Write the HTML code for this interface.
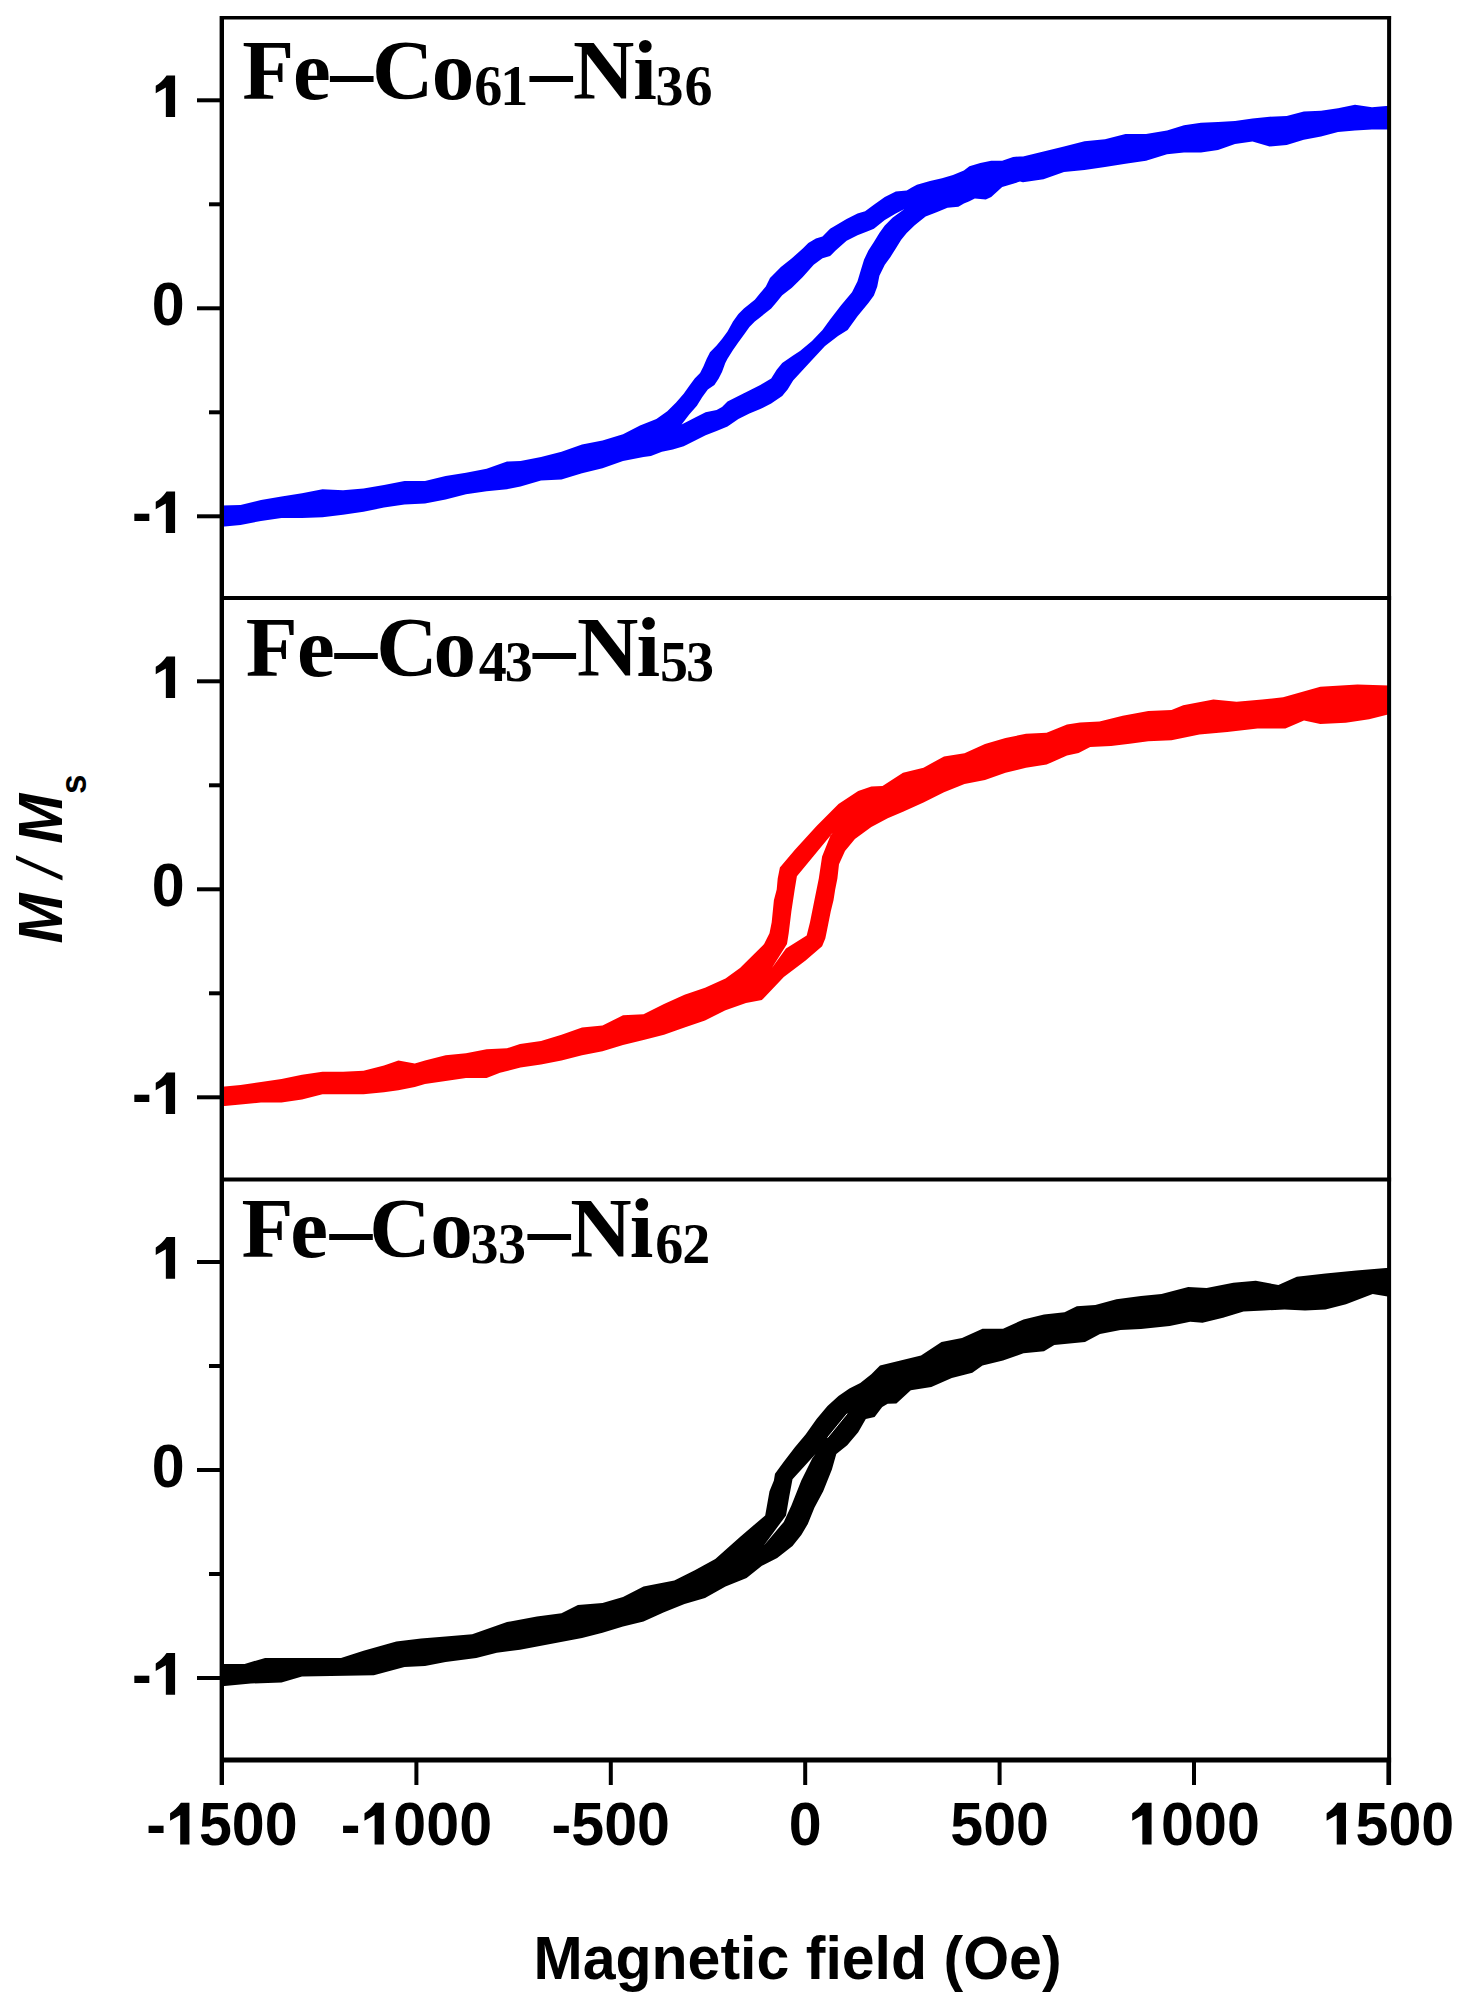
<!DOCTYPE html>
<html><head><meta charset="utf-8"><style>html,body{margin:0;padding:0;background:#fff;overflow:hidden}svg{display:block}</style></head>
<body>
<svg width="1463" height="2011" viewBox="0 0 1463 2011">
<rect width="100%" height="100%" fill="#fff"/>
<defs>
<clipPath id="c0"><rect x="222" y="19.5" width="1167" height="576.5"/></clipPath>
<clipPath id="c1"><rect x="222" y="600" width="1167" height="577.5"/></clipPath>
<clipPath id="c2"><rect x="222" y="1181.5" width="1167" height="576.0"/></clipPath>
</defs>
<g clip-path="url(#c0)">
<path fill="#0000ff" fill-rule="evenodd" d="M218.0,505.6 240.5,505.0 261.0,499.9 281.5,496.4 302.0,493.3 322.5,489.2 343.0,490.2 363.5,488.6 384.0,485.1 404.5,481.0 425.0,481.0 445.6,475.9 466.0,472.8 486.6,468.7 507.0,461.5 520.5,461.0 541.0,456.9 561.5,451.7 582.0,444.6 602.5,440.5 623.0,434.3 640.0,425.5 656.4,418.9 667.3,411.2 676.1,402.5 683.7,393.7 689.2,386.1 694.7,378.4 700.1,373.0 703.4,366.4 706.7,358.7 710.0,352.2 716.6,345.6 722.0,339.1 727.5,331.4 733.0,321.6 738.4,313.9 743.9,308.4 754.8,299.7 760.3,293.1 765.8,286.6 770.0,278.0 780.9,267.0 791.9,258.3 802.8,248.4 808.3,243.0 815.9,238.6 822.5,236.4 830.1,228.7 835.6,225.5 846.6,218.9 857.5,213.4 865.1,211.2 873.9,204.7 884.8,197.0 895.8,191.6 906.7,190.5 912.2,187.2 916.9,184.8 930.0,181.0 942.0,178.3 953.0,175.0 963.9,170.6 969.4,166.2 980.3,163.0 991.2,160.8 1002.2,160.8 1013.1,157.0 1020.0,156.4 1023.0,156.6 1043.5,151.5 1064.0,146.4 1084.5,141.3 1105.0,139.2 1125.5,134.1 1146.0,134.1 1167.0,130.4 1184.0,125.3 1201.0,122.7 1218.0,121.9 1235.0,121.0 1252.5,118.4 1269.6,116.7 1286.7,115.9 1303.8,111.6 1321.0,110.8 1338.0,108.2 1355.0,104.8 1372.0,107.3 1392.0,105.6 1392.0,129.6 1372.0,129.6 1355.0,130.4 1338.0,132.1 1321.0,136.4 1303.8,139.8 1286.7,144.9 1269.6,146.6 1252.5,141.5 1235.0,144.1 1218.0,150.0 1201.0,152.6 1184.0,152.6 1167.0,154.3 1146.0,160.7 1125.5,163.8 1105.0,166.9 1084.5,170.0 1064.0,172.0 1043.5,179.2 1023.0,182.3 1020.0,181.6 1013.1,183.7 1002.2,187.0 991.2,196.9 985.8,199.6 974.8,198.5 969.4,201.2 963.9,203.4 958.4,206.7 947.5,207.8 936.6,212.2 925.6,216.6 914.7,225.3 906.7,233.1 901.2,239.7 895.8,248.4 890.3,257.2 884.8,264.8 879.4,275.8 877.2,286.7 873.9,295.4 868.4,303.1 857.5,316.2 847.6,330.0 838.0,336.0 825.0,346.0 812.0,360.0 800.0,373.0 793.1,380.6 787.6,389.4 782.2,395.9 771.2,403.6 760.3,409.0 749.4,413.4 738.4,418.9 727.5,426.5 716.6,430.9 705.6,435.3 694.7,440.8 683.7,446.2 672.8,449.5 661.9,451.7 650.9,456.1 643.5,456.9 623.0,461.0 602.5,468.2 582.0,473.3 561.5,479.4 541.0,480.5 520.5,486.6 507.0,489.2 486.6,491.2 466.0,494.3 445.6,499.4 425.0,503.5 404.5,504.6 384.0,507.6 363.5,511.7 343.0,514.8 322.5,517.3 302.0,517.9 281.5,517.9 261.0,521.0 240.5,525.0 218.0,527.1Z M681.6,424.4 689.2,414.5 696.9,405.8 702.3,397.0 707.8,389.4 714.4,385.0 718.7,378.4 722.0,371.9 725.3,363.1 727.5,358.7 733.0,350.0 738.4,342.3 743.9,334.7 749.4,327.0 754.8,321.6 760.3,317.2 765.8,312.8 771.2,308.4 776.7,301.9 782.2,295.3 791.9,287.8 802.8,276.9 813.7,264.8 822.5,258.3 830.1,256.1 835.6,250.6 846.6,240.8 857.5,235.3 868.4,230.9 873.9,228.7 884.8,220.0 895.8,213.4 904.5,209.1 892.5,217.8 884.8,225.5 879.4,233.1 873.9,241.9 868.4,250.6 864.1,259.4 860.8,270.3 857.5,281.2 852.0,292.2 841.1,305.3 830.1,319.5 822.5,330.0 812.0,341.0 800.0,351.1 793.1,355.5 782.2,363.1 776.7,369.7 771.2,378.4 760.3,385.0 749.4,390.5 738.4,395.9 727.5,401.4 722.0,406.9 716.6,410.1 705.6,412.3 694.7,417.8Z"/>
</g>
<g clip-path="url(#c1)">
<path fill="#ff0000" fill-rule="evenodd" d="M218.0,1087.1 240.5,1085.1 261.0,1082.0 281.5,1078.9 302.0,1074.8 322.5,1071.7 343.0,1071.7 363.5,1070.7 384.0,1065.6 398.4,1060.5 414.8,1063.5 425.0,1060.5 445.6,1055.3 466.0,1053.3 486.6,1049.2 507.0,1048.2 520.0,1044.0 541.0,1041.0 561.5,1034.8 582.0,1027.6 602.5,1025.6 623.0,1015.3 643.5,1014.3 664.0,1004.0 684.5,994.8 705.0,987.7 725.5,978.4 740.0,968.0 764.1,944.1 769.5,933.2 771.7,922.2 772.8,911.3 773.9,900.3 776.7,889.4 777.7,878.5 779.9,867.5 794.7,850.0 816.6,826.0 838.5,804.1 858.2,790.9 871.3,786.6 882.5,786.1 903.0,772.8 923.5,767.7 944.0,756.4 964.5,753.3 985.0,744.1 1005.5,737.9 1026.0,733.8 1046.6,732.8 1067.0,724.6 1080.0,722.6 1099.5,721.6 1122.7,715.8 1148.3,711.1 1171.5,710.0 1183.2,705.3 1213.4,699.5 1236.6,701.8 1262.2,699.5 1283.1,697.2 1320.3,686.7 1357.5,684.4 1392.0,685.6 1392.0,713.5 1369.1,719.3 1345.8,722.7 1320.3,723.9 1304.0,720.4 1285.4,728.6 1257.5,728.6 1227.3,732.0 1199.4,734.4 1171.5,740.2 1148.3,741.3 1129.7,743.7 1111.1,746.0 1090.2,747.1 1078.6,753.0 1067.0,755.4 1046.6,764.6 1026.0,767.7 1005.5,772.8 985.0,780.0 964.5,784.1 944.0,792.3 923.5,802.5 903.0,811.7 887.7,818.3 871.3,827.0 854.9,839.1 845.0,851.1 839.0,864.2 837.4,878.5 835.2,889.4 833.5,900.3 830.8,911.3 828.6,922.2 826.4,933.2 825.3,938.6 822.1,946.3 805.6,960.5 783.8,977.0 761.9,1000.0 746.0,1003.0 725.5,1010.2 705.0,1020.5 684.5,1027.6 664.0,1034.8 643.5,1040.0 623.0,1045.1 602.5,1051.2 582.0,1055.3 561.5,1060.5 541.0,1064.6 520.5,1067.6 500.0,1072.8 486.6,1077.9 466.0,1077.9 445.6,1081.0 425.0,1084.0 414.8,1087.1 398.4,1090.2 384.0,1092.3 363.5,1094.3 343.0,1094.3 322.5,1094.3 302.0,1099.4 281.5,1102.5 261.0,1102.5 240.5,1104.6 218.0,1106.6Z M833.0,832.5 796.9,876.3 794.7,889.4 791.4,911.3 788.7,933.2 787.0,944.1 771.7,968.2 786.0,948.5 806.7,935.4 810.0,922.2 814.4,900.3 818.8,878.5 822.1,856.6 830.8,834.7Z"/>
</g>
<g clip-path="url(#c2)">
<path fill="#000" fill-rule="evenodd" d="M218.0,1664.0 244.6,1664.0 265.1,1657.9 302.0,1657.9 341.0,1657.9 363.5,1650.7 396.3,1641.5 421.0,1638.4 445.6,1636.4 472.2,1634.3 507.0,1622.0 510.3,1621.5 536.9,1616.4 561.5,1613.3 577.9,1605.1 602.5,1603.0 623.0,1596.9 643.5,1586.6 674.3,1580.5 694.8,1570.2 715.3,1559.0 740.0,1537.0 765.2,1515.4 769.5,1491.3 773.9,1480.4 775.0,1473.8 783.8,1461.8 794.7,1447.5 805.6,1434.4 816.6,1419.1 827.5,1406.0 838.5,1396.1 849.4,1388.4 860.3,1383.0 871.3,1374.2 880.0,1365.6 900.5,1360.5 921.0,1355.4 941.5,1342.0 962.0,1337.9 982.5,1328.7 1003.0,1328.7 1023.5,1319.5 1044.0,1314.4 1064.5,1312.3 1076.8,1306.2 1095.3,1305.1 1116.4,1299.2 1141.0,1296.1 1161.5,1294.1 1188.2,1286.9 1206.6,1287.9 1233.3,1282.8 1255.8,1280.8 1278.4,1284.9 1296.8,1276.7 1325.5,1273.6 1356.3,1270.5 1392.0,1267.4 1392.0,1297.2 1372.7,1294.1 1346.0,1304.3 1325.5,1309.5 1305.0,1310.5 1284.5,1309.5 1264.0,1310.5 1243.5,1311.5 1223.0,1317.7 1202.5,1322.8 1190.2,1321.8 1169.7,1325.9 1141.0,1328.9 1120.5,1330.0 1100.0,1334.1 1085.0,1342.0 1054.3,1345.1 1044.0,1351.3 1023.5,1353.3 1003.0,1360.5 982.5,1365.6 972.3,1372.8 951.8,1377.9 931.3,1387.1 910.8,1390.2 896.4,1403.5 887.7,1403.8 882.2,1407.0 874.6,1416.9 865.8,1419.1 858.2,1432.2 847.2,1445.3 836.3,1454.1 831.9,1469.4 823.2,1491.3 814.4,1507.7 807.8,1524.1 801.3,1535.1 792.5,1546.0 777.2,1558.0 761.9,1565.7 746.6,1578.0 725.5,1586.6 705.0,1597.9 684.5,1604.0 664.0,1612.3 643.5,1621.5 623.0,1626.6 602.5,1632.8 582.0,1637.9 520.0,1649.7 496.8,1652.8 476.3,1657.9 445.6,1662.0 425.0,1666.1 404.5,1667.1 373.8,1675.3 302.0,1676.4 281.5,1682.5 250.8,1683.5 218.0,1686.6Z M815.5,1454.1 792.5,1479.3 789.2,1496.8 786.0,1515.4 763.5,1546.0 783.8,1521.9 791.4,1505.5 801.3,1480.4 812.2,1458.5Z"/>
<line x1="847.2" y1="1413.6" x2="827.5" y2="1437.7" stroke="#fff" stroke-width="1"/>
</g>
<g stroke="#000" fill="none" stroke-linecap="butt">
<line x1="221.8" y1="16" x2="221.8" y2="1785" stroke-width="4.4"/>
<line x1="1389.1" y1="16" x2="1389.1" y2="1785" stroke-width="4"/>
<line x1="220" y1="17.75" x2="1391.1" y2="17.75" stroke-width="3.6"/>
<line x1="220" y1="598" x2="1391.1" y2="598" stroke-width="3.8"/>
<line x1="220" y1="1179.5" x2="1391.1" y2="1179.5" stroke-width="3.8"/>
<line x1="220" y1="1760" x2="1391.1" y2="1760" stroke-width="5"/>
<line x1="197" y1="100.3" x2="221" y2="100.3" stroke-width="4"/>
<line x1="197" y1="308.3" x2="221" y2="308.3" stroke-width="4"/>
<line x1="197" y1="516.3" x2="221" y2="516.3" stroke-width="4"/>
<line x1="209" y1="204.3" x2="221" y2="204.3" stroke-width="4"/>
<line x1="209" y1="412.3" x2="221" y2="412.3" stroke-width="4"/>
<line x1="197" y1="681.3" x2="221" y2="681.3" stroke-width="4"/>
<line x1="197" y1="889.3" x2="221" y2="889.3" stroke-width="4"/>
<line x1="197" y1="1097.3" x2="221" y2="1097.3" stroke-width="4"/>
<line x1="209" y1="785.3" x2="221" y2="785.3" stroke-width="4"/>
<line x1="209" y1="993.3" x2="221" y2="993.3" stroke-width="4"/>
<line x1="197" y1="1262.0" x2="221" y2="1262.0" stroke-width="4"/>
<line x1="197" y1="1470.0" x2="221" y2="1470.0" stroke-width="4"/>
<line x1="197" y1="1678.0" x2="221" y2="1678.0" stroke-width="4"/>
<line x1="209" y1="1366.0" x2="221" y2="1366.0" stroke-width="4"/>
<line x1="209" y1="1574.0" x2="221" y2="1574.0" stroke-width="4"/>
<line x1="222.0" y1="1760" x2="222.0" y2="1785" stroke-width="4"/>
<line x1="416.4" y1="1760" x2="416.4" y2="1785" stroke-width="4"/>
<line x1="610.8" y1="1760" x2="610.8" y2="1785" stroke-width="4"/>
<line x1="805.2" y1="1760" x2="805.2" y2="1785" stroke-width="4"/>
<line x1="999.6" y1="1760" x2="999.6" y2="1785" stroke-width="4"/>
<line x1="1194.0" y1="1760" x2="1194.0" y2="1785" stroke-width="4"/>
<line x1="1388.4" y1="1760" x2="1388.4" y2="1785" stroke-width="4"/>
</g>
<g font-family="Liberation Sans" font-weight="bold" font-size="61" fill="#000">
<path d="M810,0 L490,0 L490,990 L140,800 L140,1052 Q350,1170 515,1400 L810,1400 Z" transform="translate(151.69,117.10) scale(0.02889,-0.02979)"/>
<text x="0" y="0" transform="translate(151.69,325.10) scale(0.97,1)">0</text>
<text x="0" y="0" transform="translate(131.99,533.10) scale(0.97,1)">-</text>
<path d="M810,0 L490,0 L490,990 L140,800 L140,1052 Q350,1170 515,1400 L810,1400 Z" transform="translate(151.69,533.10) scale(0.02889,-0.02979)"/>
<path d="M810,0 L490,0 L490,990 L140,800 L140,1052 Q350,1170 515,1400 L810,1400 Z" transform="translate(151.69,698.10) scale(0.02889,-0.02979)"/>
<text x="0" y="0" transform="translate(151.69,906.10) scale(0.97,1)">0</text>
<text x="0" y="0" transform="translate(131.99,1114.10) scale(0.97,1)">-</text>
<path d="M810,0 L490,0 L490,990 L140,800 L140,1052 Q350,1170 515,1400 L810,1400 Z" transform="translate(151.69,1114.10) scale(0.02889,-0.02979)"/>
<path d="M810,0 L490,0 L490,990 L140,800 L140,1052 Q350,1170 515,1400 L810,1400 Z" transform="translate(151.69,1278.80) scale(0.02889,-0.02979)"/>
<text x="0" y="0" transform="translate(151.69,1486.80) scale(0.97,1)">0</text>
<text x="0" y="0" transform="translate(131.99,1694.80) scale(0.97,1)">-</text>
<path d="M810,0 L490,0 L490,990 L140,800 L140,1052 Q350,1170 515,1400 L810,1400 Z" transform="translate(151.69,1694.80) scale(0.02889,-0.02979)"/>
<text x="0" y="0" transform="translate(146.33,1844.50) scale(0.97,1)">-</text>
<path d="M810,0 L490,0 L490,990 L140,800 L140,1052 Q350,1170 515,1400 L810,1400 Z" transform="translate(166.04,1844.50) scale(0.02889,-0.02979)"/>
<text x="0" y="0" transform="translate(198.94,1844.50) scale(0.97,1)">5</text>
<text x="0" y="0" transform="translate(231.85,1844.50) scale(0.97,1)">0</text>
<text x="0" y="0" transform="translate(264.76,1844.50) scale(0.97,1)">0</text>
<text x="0" y="0" transform="translate(340.73,1844.50) scale(0.97,1)">-</text>
<path d="M810,0 L490,0 L490,990 L140,800 L140,1052 Q350,1170 515,1400 L810,1400 Z" transform="translate(360.44,1844.50) scale(0.02889,-0.02979)"/>
<text x="0" y="0" transform="translate(393.34,1844.50) scale(0.97,1)">0</text>
<text x="0" y="0" transform="translate(426.25,1844.50) scale(0.97,1)">0</text>
<text x="0" y="0" transform="translate(459.16,1844.50) scale(0.97,1)">0</text>
<text x="0" y="0" transform="translate(551.59,1844.50) scale(0.97,1)">-</text>
<text x="0" y="0" transform="translate(571.29,1844.50) scale(0.97,1)">5</text>
<text x="0" y="0" transform="translate(604.20,1844.50) scale(0.97,1)">0</text>
<text x="0" y="0" transform="translate(637.11,1844.50) scale(0.97,1)">0</text>
<text x="0" y="0" transform="translate(788.75,1844.50) scale(0.97,1)">0</text>
<text x="0" y="0" transform="translate(950.24,1844.50) scale(0.97,1)">5</text>
<text x="0" y="0" transform="translate(983.15,1844.50) scale(0.97,1)">0</text>
<text x="0" y="0" transform="translate(1016.05,1844.50) scale(0.97,1)">0</text>
<path d="M810,0 L490,0 L490,990 L140,800 L140,1052 Q350,1170 515,1400 L810,1400 Z" transform="translate(1128.18,1844.50) scale(0.02889,-0.02979)"/>
<text x="0" y="0" transform="translate(1161.09,1844.50) scale(0.97,1)">0</text>
<text x="0" y="0" transform="translate(1194.00,1844.50) scale(0.97,1)">0</text>
<text x="0" y="0" transform="translate(1226.91,1844.50) scale(0.97,1)">0</text>
<path d="M810,0 L490,0 L490,990 L140,800 L140,1052 Q350,1170 515,1400 L810,1400 Z" transform="translate(1322.58,1844.50) scale(0.02889,-0.02979)"/>
<text x="0" y="0" transform="translate(1355.49,1844.50) scale(0.97,1)">5</text>
<text x="0" y="0" transform="translate(1388.40,1844.50) scale(0.97,1)">0</text>
<text x="0" y="0" transform="translate(1421.31,1844.50) scale(0.97,1)">0</text>
</g>
<text transform="translate(797.5,1978.5) scale(0.968,1)" font-family="Liberation Sans" font-weight="bold" font-size="61" text-anchor="middle">Magnetic field (Oe)</text>
<text transform="translate(61.6,859) rotate(-90) scale(0.95,1)" font-family="Liberation Sans" font-weight="bold" font-size="63" text-anchor="middle"><tspan font-style="italic">M</tspan><tspan font-style="italic" font-weight="normal"> / </tspan><tspan font-style="italic">M</tspan><tspan font-size="37" dy="23.9">s</tspan></text>
<g font-family="Liberation Serif" font-weight="bold" fill="#000">
<text x="242.25" y="99.4" font-size="85.0">F</text>
<text x="292.89" y="99.4" font-size="85.0">e</text>
<text x="330.58" y="99.4" font-size="85.0">–</text>
<text x="371.95" y="99.4" font-size="85.0">C</text>
<text x="431.86" y="99.4" font-size="85.0">o</text>
<text x="474.19" y="104.6" font-size="56.0">6</text>
<text x="500.22" y="104.6" font-size="56.0">1</text>
<text x="529.98" y="99.4" font-size="85.0">–</text>
<text x="572.98" y="99.4" font-size="85.0">N</text>
<text x="633.13" y="99.4" font-size="85.0">i</text>
<text x="655.49" y="104.6" font-size="56.0">3</text>
<text x="684.59" y="104.6" font-size="56.0">6</text>
<text x="245.65" y="676.0" font-size="85.0">F</text>
<text x="297.09" y="676.0" font-size="85.0">e</text>
<text x="334.78" y="676.0" font-size="85.0">–</text>
<text x="376.25" y="676.0" font-size="85.0">C</text>
<text x="433.56" y="676.0" font-size="85.0">o</text>
<text x="478.73" y="681.4" font-size="56.0">4</text>
<text x="504.69" y="681.4" font-size="56.0">3</text>
<text x="533.08" y="676.0" font-size="85.0">–</text>
<text x="576.98" y="676.0" font-size="85.0">N</text>
<text x="636.53" y="676.0" font-size="85.0">i</text>
<text x="660.06" y="681.4" font-size="56.0">5</text>
<text x="685.89" y="681.4" font-size="56.0">3</text>
<text x="241.55" y="1256.8" font-size="85.0">F</text>
<text x="290.29" y="1256.8" font-size="85.0">e</text>
<text x="329.68" y="1256.8" font-size="85.0">–</text>
<text x="369.35" y="1256.8" font-size="85.0">C</text>
<text x="430.16" y="1256.8" font-size="85.0">o</text>
<text x="470.59" y="1263.2" font-size="56.0">3</text>
<text x="497.89" y="1263.2" font-size="56.0">3</text>
<text x="527.88" y="1256.8" font-size="85.0">–</text>
<text x="570.18" y="1256.8" font-size="85.0">N</text>
<text x="629.73" y="1256.8" font-size="85.0">i</text>
<text x="655.29" y="1263.2" font-size="56.0">6</text>
<text x="682.15" y="1263.2" font-size="56.0">2</text>
</g>
</svg>
</body></html>
